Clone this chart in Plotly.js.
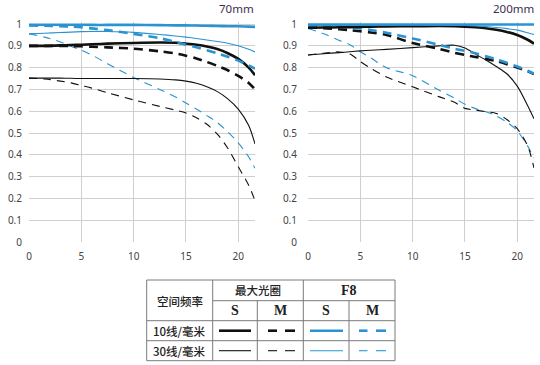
<!DOCTYPE html>
<html>
<head>
<meta charset="utf-8">
<script src="https://cdn.plot.ly/plotly-3.0.1.min.js"></script>
<style>html,body{margin:0;padding:0;background:#fff}#chart{width:540px;height:365px}</style>
</head>
<body>
<div id="chart"></div>
<script>
// ---- data ----
const X = [0, 1.5, 3, 4, 5, 6, 7.5, 10, 12.5, 14, 15, 16, 17, 18, 19, 20, 21, 21.6];
const xTicks = [0, 5, 10, 15, 20];
const panelTitles = ["70mm", "200mm"];

// 70mm
const L_S10_max = [.900,.900,.902,.904,.905,.907,.910,.913,.915,.914,.910,.905,.897,.885,.866,.840,.800,.765];
const L_M10_max = [.900,.900,.900,.899,.898,.896,.893,.887,.875,.865,.855,.842,.826,.808,.788,.762,.730,.700];
const L_S10_f8  = [.997,.997,.997,.997,.997,.996,.996,.996,.995,.994,.994,.993,.992,.991,.990,.990,.988,.987];
const L_M10_f8  = [.993,.992,.990,.988,.985,.980,.972,.955,.935,.918,.905,.893,.880,.866,.850,.832,.810,.795];
const L_S30_max = [.752,.752,.752,.751,.750,.750,.750,.750,.748,.744,.738,.728,.712,.690,.657,.610,.535,.450];
const L_M30_max = [.752,.748,.738,.730,.718,.706,.685,.652,.622,.605,.592,.570,.540,.495,.430,.345,.260,.190];
const L_S30_f8  = [.955,.958,.961,.963,.965,.966,.966,.962,.952,.945,.940,.934,.927,.920,.912,.900,.884,.872];
const L_M30_f8  = [.955,.940,.918,.898,.880,.858,.818,.755,.700,.665,.638,.610,.580,.548,.505,.455,.390,.338];

// 200mm
const R_S10_max = [.983,.984,.985,.986,.987,.988,.989,.990,.991,.990,.988,.985,.981,.974,.964,.950,.928,.910];
const R_M10_max = [.985,.981,.976,.972,.967,.961,.950,.913,.886,.868,.858,.849,.840,.830,.816,.800,.783,.770];
const R_S10_f8  = [.998,.998,.998,.998,.998,.998,.998,.998,.998,.998,.998,.998,.998,.998,.998,.998,.998,.998];
const R_M10_f8  = [.992,.990,.986,.983,.980,.973,.960,.934,.905,.887,.877,.866,.852,.838,.822,.805,.786,.772];
const R_S30_max = [.858,.864,.869,.873,.877,.880,.884,.892,.900,.903,.890,.862,.835,.805,.772,.715,.625,.565];
const R_M30_max = [.858,.866,.872,.862,.828,.797,.757,.712,.667,.641,.613,.605,.598,.590,.562,.520,.440,.340];
const R_S30_f8  = [.995,.995,.995,.995,.995,.995,.995,.995,.994,.993,.993,.991,.988,.984,.979,.972,.960,.952];
const R_M30_f8  = [.980,.955,.925,.905,.873,.845,.800,.763,.697,.660,.632,.612,.598,.578,.550,.510,.440,.385];

// legend table text
const colHead = ["空间频率", "最大光圈", "F8"];
const subHead = ["S", "M", "S", "M"];
const rowHead = ["10线/毫米", "30线/毫米"];

// ---- styles ----
const BLACK = "#111111", BLUE = "#2a93d2";
const TH = 2.6, TN = 1.1;
const DASH_TH = "9px,6px", DASH_TN = "8px,6px";

function tr(y, xa, ya, color, width, dash) {
  return {x: X, y: y, xaxis: xa, yaxis: ya, type: "scatter", mode: "lines",
    line: {color: color, width: width, dash: dash || "solid", shape: "spline", smoothing: 0.8},
    hoverinfo: "skip"};
}

const data = [
  tr(L_M30_f8, "x", "y", BLUE, TN, DASH_TN),
  tr(L_S30_f8, "x", "y", BLUE, TN),
  tr(L_M30_max, "x", "y", BLACK, TN, DASH_TN),
  tr(L_S30_max, "x", "y", BLACK, TN),
  tr(L_M10_max, "x", "y", BLACK, TH, DASH_TH),
  tr(L_S10_max, "x", "y", BLACK, TH),
  tr(L_M10_f8, "x", "y", BLUE, TH, DASH_TH),
  tr(L_S10_f8, "x", "y", BLUE, TH),

  tr(R_M30_f8, "x2", "y2", BLUE, TN, DASH_TN),
  tr(R_M30_max, "x2", "y2", BLACK, TN, DASH_TN),
  tr(R_S30_max, "x2", "y2", BLACK, TN),
  tr(R_M10_max, "x2", "y2", BLACK, TH, DASH_TH),
  tr(R_M10_f8, "x2", "y2", BLUE, TH, DASH_TH),
  tr(R_S10_max, "x2", "y2", BLACK, TH),
  tr(R_S30_f8, "x2", "y2", BLUE, TN),
  tr(R_S10_f8, "x2", "y2", BLUE, TH),
];

// ---- layout helpers (pixel -> paper) ----
const W = 540, H = 365;
const PX = p => p / W;
const PY = p => 1 - p / H;

const yTop = 22.3, yBot = 242;
const tickFont = {family: "Noto Sans, Open Sans, sans-serif", size: 10, color: "#444"};
const gridC = "#cfcfcf";

function xAxis(d0, d1, anchor) {
  return {domain: [PX(d0), PX(d1)], range: [0, 21.6], anchor: anchor, tickvals: xTicks,
    showgrid: true, gridcolor: gridC, gridwidth: 1, zeroline: false, showline: false,
    ticks: "", tickfont: tickFont, ticklabelstandoff: 7, fixedrange: true};
}
function yAxis(anchor, standoff) {
  return {domain: [PY(yBot), PY(yTop)], range: [0, 1.008], anchor: anchor, tick0: 0, dtick: 0.1,
    showgrid: true, gridcolor: gridC, gridwidth: 1, zeroline: false, showline: false,
    ticks: "", tickfont: tickFont, ticklabelstandoff: standoff, fixedrange: true};
}

// ---- legend table ----
const tL = 146.7, tR = 395, tT = 280, tB = 360.7;
const c1 = 212.7, c2 = 257.3, c3 = 303.3, c4 = 349;
const r1 = 300.7, r2 = 320.7, r3 = 340.7;
const bc = {color: "#7a7a7a", width: 1};
function ln(x0, y0, x1, y1, line) {
  return {type: "line", xref: "paper", yref: "paper", x0: PX(x0), y0: PY(y0), x1: PX(x1), y1: PY(y1), line: line};
}
const shapes = [
  {type: "rect", xref: "paper", yref: "paper", x0: PX(tL), y0: PY(tB), x1: PX(tR), y1: PY(tT), line: bc},
  ln(c1, r1, tR, r1, bc), ln(tL, r2, tR, r2, bc), ln(tL, r3, tR, r3, bc),
  ln(c1, tT, c1, tB, bc), ln(c3, tT, c3, tB, bc),
  ln(c2, r1, c2, tB, bc), ln(c4, r1, c4, tB, bc),
];
// sample lines in table
const rowsY = [330.7, 350.7];
const widths = [TH, TN];
rowsY.forEach((yy, i) => {
  const w = widths[i];
  shapes.push(ln(219, yy, 251, yy, {color: BLACK, width: w}));
  shapes.push(ln(268, yy, 277, yy, {color: BLACK, width: w}));
  shapes.push(ln(285, yy, 295, yy, {color: BLACK, width: w}));
  shapes.push(ln(310, yy, 343, yy, {color: BLUE, width: w}));
  shapes.push(ln(359, yy, 367.5, yy, {color: BLUE, width: w}));
  shapes.push(ln(376, yy, 386, yy, {color: BLUE, width: w}));
});

const cjk = {family: "Noto Sans CJK SC, sans-serif", size: 11.5, color: "#222", weight: 500};
const serif = {family: "Liberation Serif, serif", size: 14, color: "#222", weight: 700};
function ann(text, x, y, font, xanchor) {
  return {text: text, x: PX(x), y: PY(y), xref: "paper", yref: "paper", showarrow: false,
    xanchor: xanchor || "center", yanchor: "middle", font: font};
}
const annotations = [
  ann(panelTitles[0], 255.5, 8, {family: "Noto Sans, sans-serif", size: 11.5, color: "#3d2e4f"}, "right"),
  ann(panelTitles[1], 535.5, 8, {family: "Noto Sans, sans-serif", size: 11.5, color: "#3d2e4f"}, "right"),
  ann(colHead[0], (tL + c1) / 2, r1, cjk),
  ann(colHead[1], (c1 + c3) / 2, (tT + r1) / 2, cjk),
  ann(colHead[2], (c3 + tR) / 2, (tT + r1) / 2, serif),
  ann(subHead[0], (c1 + c2) / 2, (r1 + r2) / 2, serif),
  ann(subHead[1], (c2 + c3) / 2, (r1 + r2) / 2, serif),
  ann(subHead[2], (c3 + c4) / 2, (r1 + r2) / 2, serif),
  ann(subHead[3], (c4 + tR) / 2, (r1 + r2) / 2, serif),
  ann(rowHead[0], (tL + c1) / 2, rowsY[0], cjk),
  ann(rowHead[1], (tL + c1) / 2, rowsY[1], cjk),
];

const layout = {
  width: W, height: H, margin: {l: 0, r: 0, t: 0, b: 0, pad: 0},
  paper_bgcolor: "#fff", plot_bgcolor: "#fff", showlegend: false,
  xaxis: xAxis(29, 255, "y"), yaxis: yAxis("x", 6),
  xaxis2: xAxis(308, 534, "y2"), yaxis2: yAxis("x2", 10),
  shapes: shapes, annotations: annotations,
};

Plotly.newPlot("chart", data, layout, {staticPlot: true, displayModeBar: false});
</script>
</body>
</html>
